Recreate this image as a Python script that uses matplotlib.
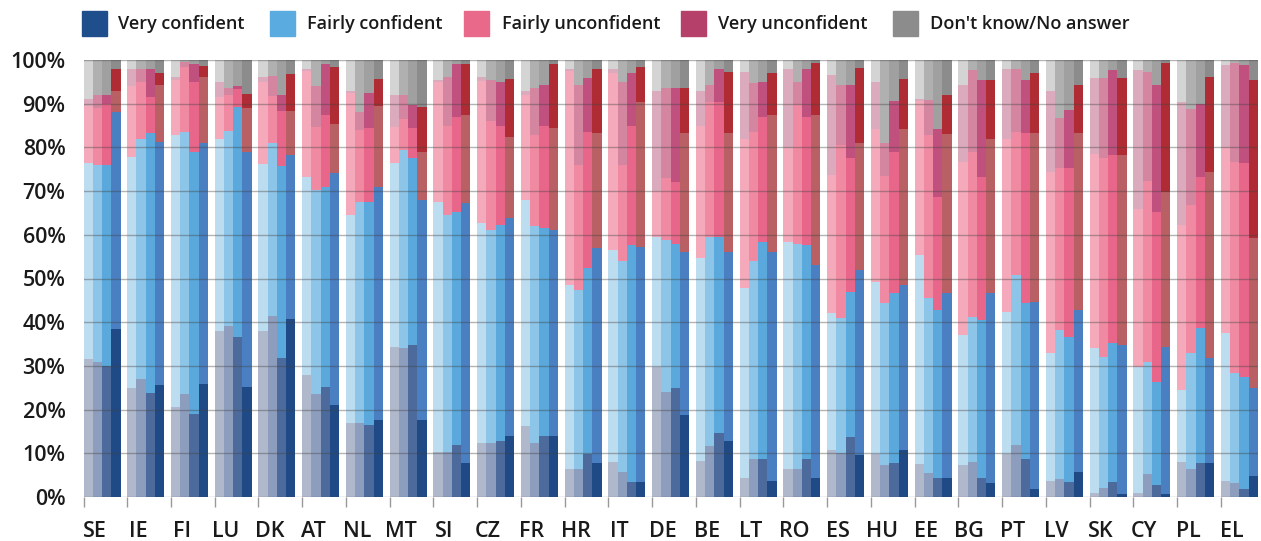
import numpy as np
import matplotlib
matplotlib.use("Agg")
import matplotlib.pyplot as plt
from matplotlib.patches import Rectangle

plt.rcParams['font.family'] = ['Open Sans', 'DejaVu Sans']
plt.rcParams['font.weight'] = 'semibold'

# =============================================================================
# Data: 27 countries, 4 bars each (lightest -> darkest), cumulative tops in %
# =============================================================================
countries = ["SE", "IE", "FI", "LU", "DK", "AT", "NL", "MT", "SI", "CZ", "FR",
             "HR", "IT", "DE", "BE", "LT", "RO", "ES", "HU", "EE", "BG", "PT",
             "LV", "SK", "CY", "PL", "EL"]

categories = ["Very confident", "Fairly confident", "Fairly unconfident",
              "Very unconfident", "Don't know/No answer"]

# top of "Very confident"
top_vc = [[31.5, 31, 30, 38.5], [25, 27, 23.7, 25.6], [20.5, 23.5, 19, 25.8],
          [38, 39.2, 36.6, 25.2], [38, 41.5, 31.8, 40.8], [28, 23.5, 25.2, 21],
          [16.9, 16.9, 16.5, 17.6], [34.4, 34, 34.8, 17.6], [10.2, 10.4, 11.9, 7.7],
          [12.4, 12.3, 12.8, 14], [16.3, 12.4, 14, 14], [6.5, 6.5, 9.8, 7.7],
          [8.1, 5.8, 3.5, 3.5], [29.8, 24.1, 24.9, 18.8], [8.2, 11.7, 14.7, 12.8],
          [4.4, 8.6, 8.8, 3.7], [6.5, 6.5, 8.8, 4.4], [10.8, 10, 13.8, 9.6],
          [9.8, 7.3, 7.7, 10.8], [7.5, 5.6, 4.4, 4.4], [7.3, 8.1, 4.3, 3.1],
          [9.8, 11.8, 8.6, 1.8], [3.7, 4.2, 3.4, 5.7], [1, 2, 3.4, 0.8],
          [1, 5.2, 2.7, 0.8], [7.9, 6.3, 7.7, 7.7], [3.7, 3.3, 1.8, 4.7]]

# top of "Fairly confident"
top_fc = [[76.5, 76, 76, 88], [77.8, 82, 83.2, 81.2], [82.8, 83.6, 79, 81],
          [82, 83.8, 89.3, 79], [76.2, 81, 75.7, 78.3], [73.3, 70.2, 71, 74.1],
          [64.5, 67.6, 67.6, 71], [76.4, 79.4, 77.5, 68], [67.6, 64.5, 65.3, 67.2],
          [62.6, 61.1, 62.2, 63.8], [68, 62, 61.5, 61], [48.5, 47.4, 52.3, 56.9],
          [56.5, 53.9, 57.7, 57.3], [59.6, 58.8, 58, 56.1], [54.6, 59.6, 59.6, 56.1],
          [47.8, 53.9, 58.4, 56.1], [58.4, 58, 57.7, 53.1], [42, 40.9, 47, 52],
          [49.3, 44.3, 46.6, 48.5], [55.4, 45.5, 42.8, 46.6], [37, 41.3, 40.5, 46.6],
          [42.4, 50.8, 44.3, 44.7], [32.9, 38.2, 36.7, 42.8], [34, 32.1, 35.2, 34.8],
          [29.8, 31, 26.4, 34.4], [24.5, 32.9, 38.6, 31.7], [37.5, 28.3, 27.5, 24.9]]

# top of "Fairly unconfident"
top_fu = [[89.5, 89, 90, 93], [94, 95, 91.5, 94.3], [95.5, 98.3, 95, 96],
          [91.5, 92, 93.4, 89], [95, 91.8, 88.4, 88.4], [97.5, 84.6, 87.3, 85.3],
          [92.5, 84, 84.4, 89.5], [84.7, 86.6, 84.4, 79], [95, 85, 87, 87.3],
          [95.3, 86, 85, 82.3], [92, 82.8, 85, 84.4], [97.5, 76, 83.6, 83.2],
          [97, 76, 85, 90.5], [70, 73, 72, 83.2], [85, 90.5, 90.5, 83.2],
          [82, 83.6, 87, 87.4], [79.8, 89.7, 87, 87.4], [73.7, 80.5, 77.5, 81],
          [84.2, 73.5, 78.9, 84.2], [90.6, 82.9, 68.7, 83.1], [76.7, 79, 73.3, 82],
          [82, 83.6, 83.2, 83.2], [74.4, 75.2, 75.2, 83.2], [78.6, 77.5, 78.3, 78.3],
          [66, 72.2, 65.3, 69.9], [62.2, 66.8, 73.3, 74.4], [79.8, 76.7, 76.4, 59.2]]

# top of "Very unconfident" (the rest is "Don't know/No answer")
top_vu = [[91, 92, 92, 98], [98, 98, 98, 97], [96, 99.5, 99, 98.7],
          [95, 93.5, 94, 92.2], [96, 96.4, 92, 96.9], [98, 94, 99, 98.3],
          [93, 88, 92.4, 95.6], [92, 92, 89.7, 89.3], [95.5, 96, 99, 99],
          [96, 95.5, 95, 95.6], [93, 93.5, 94.3, 99], [98, 94.3, 95.8, 98],
          [98, 95, 97, 98.5], [93, 93.5, 93.5, 93.5], [92.8, 94.3, 98, 97.3],
          [97.3, 94.7, 95, 97], [98, 95, 98, 99.2], [96.6, 94.3, 94.3, 98.1],
          [95, 81, 90.7, 95.6], [91, 90.9, 84.3, 91.9], [94.3, 97.7, 95.4, 95.4],
          [98, 98, 95.4, 97], [92.8, 86.7, 88.6, 94.3], [95.8, 95.8, 97.7, 95.8],
          [97.7, 97.3, 94.3, 99.2], [90.5, 88.9, 90, 96.2], [98.9, 99.2, 98.9, 95.4]]

# =============================================================================
# Colours
# =============================================================================
legend_colors = ["#1f4e8c", "#5aace0", "#e8698a", "#b5406a", "#8c8c8c"]
shade_colors = [["#b0b9cb", "#8c9dbe", "#4c6a9c", "#1f4a86"],
                ["#bcdcf0", "#8dc5e8", "#5aa8dc", "#4a7fc2"],
                ["#f4aabb", "#f08aa2", "#e8668a", "#b86064"],
                ["#dcaabd", "#d4859f", "#c0507e", "#b02c34"],
                ["#d4d4d4", "#b0b0b0", "#a0a0a0", "#8c8c8c"]]

# =============================================================================
# Figure
# =============================================================================
W, H = 1261, 541
fig = plt.figure(figsize=(W / 100, H / 100), dpi=100)
ax = fig.add_axes([83.5 / W, 1 - 497 / H, (1258 - 83.5) / W, 437 / H])

n = len(countries)
tops = np.array([top_vc, top_fc, top_fu, top_vu, np.full((n, 4), 100.0)])
bottoms = np.concatenate([np.zeros((1, n, 4)), tops[:-1]])
bw = 0.846 / 4

for k in range(4):
    x = np.arange(n) + k * bw
    for c in range(5):
        ax.bar(x, tops[c, :, k] - bottoms[c, :, k], bottom=bottoms[c, :, k],
               width=bw, align='edge', color=shade_colors[c][k], linewidth=0)

ax.set_xlim(0, 26.85)
ax.set_ylim(0, 100)

ax.set_yticks(range(0, 101, 10))
ax.set_yticklabels([f"{v}%" for v in range(0, 101, 10)])
ax.yaxis.grid(True, color='#444444', alpha=0.4, linewidth=1)
ax.set_axisbelow(False)
ax.tick_params(axis='y', length=0, pad=13, labelsize=15.5, labelcolor='#1a1a1a')

ax.set_xticks(np.arange(n) + 0.25)
ax.set_xticklabels(countries)
ax.tick_params(axis='x', which='major', length=0, pad=17, labelsize=15.5,
               labelcolor='#1a1a1a')
ax.set_xticks(np.arange(n), minor=True)
ax.tick_params(axis='x', which='minor', length=7, width=1, color='#999999')

for s in ax.spines.values():
    s.set_visible(False)

# Legend (manual, on top)
sq_x = [82, 270, 464, 681, 893]
txt_x = [118, 307, 502, 718, 930]
for c in range(5):
    fig.patches.append(Rectangle((sq_x[c] / W, 1 - 36 / H), 25 / W, 25 / H,
                                 transform=fig.transFigure,
                                 color=legend_colors[c]))
    fig.text(txt_x[c] / W, 1 - 24 / H, categories[c], fontsize=13,
             va='center', ha='left', color='#1a1a1a')

fig.savefig("out.png", dpi=100)
